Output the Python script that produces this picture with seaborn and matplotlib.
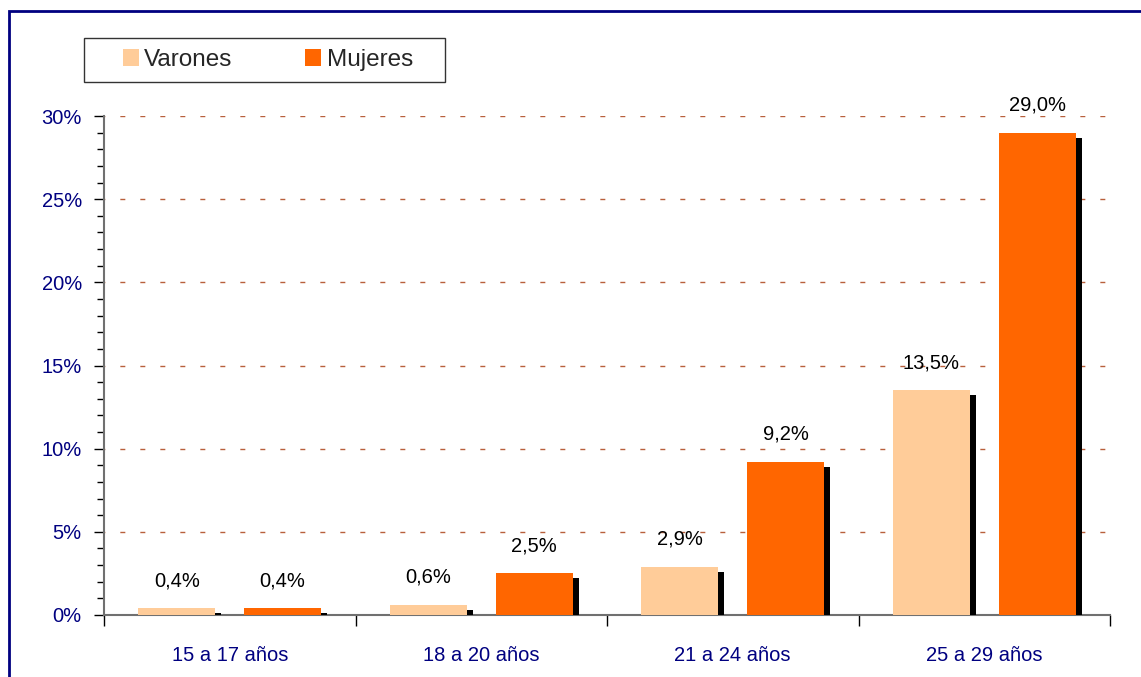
import pandas as pd
import numpy as np
import matplotlib
matplotlib.use("Agg")
import matplotlib.pyplot as plt
import matplotlib.patches as mpatches
import matplotlib.patheffects as pe
from matplotlib.ticker import FormatStrFormatter, MultipleLocator
import seaborn as sns

# --- Data ---
age_groups = ['15 a 17 años', '18 a 20 años', '21 a 24 años', '25 a 29 años']
varones = [0.4, 0.6, 2.9, 13.5]
mujeres = [0.4, 2.5, 9.2, 29.0]
series_names = ['Varones', 'Mujeres']
series_colors = ['#FFCC99', '#FF6600']

NAVY = '#000080'
GRID_COLOR = '#b8603c'

sns.set_style("white")
plt.rcParams['font.family'] = ['Liberation Sans', 'DejaVu Sans']

df = pd.DataFrame({
    'grupo': age_groups * 2,
    'sexo': [series_names[0]] * len(age_groups) + [series_names[1]] * len(age_groups),
    'valor': varones + mujeres,
})

fig = plt.figure(figsize=(11.41, 6.77), dpi=100)
ax = fig.add_axes([104 / 1141, 62 / 677, 1006 / 1141, 499 / 677])

sns.barplot(data=df, x='grupo', y='valor', hue='sexo', order=age_groups,
            hue_order=series_names, palette=series_colors, width=0.84, gap=0.27,
            saturation=1, errorbar=None, ax=ax, zorder=3)
ax.get_legend().remove()

# drop shadow on bars, like the old spreadsheet style
shadow = [pe.SimplePatchShadow(offset=(4.3, -3.6), shadow_rgbFace='black', alpha=1.0), pe.Normal()]
for cont in ax.containers:
    for bar in cont:
        bar.set_path_effects(shadow)
        bar.set_linewidth(0)
    labels = [f"{b.get_height():.1f}%".replace('.', ',') for b in cont]
    ax.bar_label(cont, labels=labels, padding=13, fontsize=14.5, color='black')

# axes
ax.set_ylim(0, 30)
ax.set_xlim(-0.5, len(age_groups) - 0.5)
ax.yaxis.set_major_locator(MultipleLocator(5))
ax.yaxis.set_minor_locator(MultipleLocator(1))
ax.yaxis.set_major_formatter(FormatStrFormatter('%d%%'))
ax.tick_params(axis='y', which='major', direction='out', length=7, width=1, color='black',
               labelsize=14.5, labelcolor=NAVY, pad=9, left=True)
ax.tick_params(axis='y', which='minor', direction='out', length=5, width=1, color='black', left=True)

ax.set_xticks(np.arange(-0.5, len(age_groups), 1.0))
ax.set_xticklabels([])
ax.set_xticks(np.arange(len(age_groups)), minor=True)
ax.set_xticklabels(age_groups, minor=True)
ax.tick_params(axis='x', which='major', direction='out', length=8, width=1, color='black', bottom=True)
ax.tick_params(axis='x', which='minor', length=0, labelsize=14.5, labelcolor=NAVY, pad=22)

ax.set_xlabel('')
ax.set_ylabel('')

ax.grid(False)
for yv in range(5, 31, 5):
    ax.axhline(yv, color=GRID_COLOR, lw=1, ls=(3, (3.6, 10.8)), zorder=1)

for side in ['top', 'right']:
    ax.spines[side].set_visible(False)
for side in ['left', 'bottom']:
    ax.spines[side].set_color('#707070')
    ax.spines[side].set_linewidth(1.5)

# legend box + legend
fig.patches.append(mpatches.Rectangle((84 / 1141, (677 - 82) / 677), 361 / 1141, 44 / 677,
                                      transform=fig.transFigure, fill=False,
                                      edgecolor='#333333', lw=1))
handles = [mpatches.Patch(facecolor=c, edgecolor='none') for c in series_colors]
fig.legend(handles, series_names, loc='center left', bbox_to_anchor=(123 / 1141, (677 - 60) / 677),
           ncol=2, frameon=False, fontsize=17.5, borderpad=0, borderaxespad=0,
           handlelength=0.65, handleheight=0.7, handletextpad=0.22, columnspacing=3.0)

# outer navy frame (partly outside the image)
fig.patches.append(mpatches.Rectangle((9 / 1141, -0.1), 1.2, 0.1 + (677 - 11) / 677,
                                      transform=fig.transFigure, fill=False,
                                      edgecolor=NAVY, lw=2))

fig.savefig('out.png', dpi=100)
